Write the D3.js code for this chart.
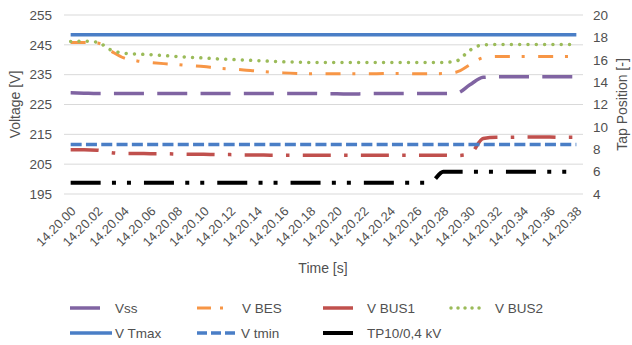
<!DOCTYPE html>
<html>
<head>
<meta charset="utf-8">
<script src="https://cdn.jsdelivr.net/npm/d3@7"></script>
<style>
  body { margin: 0; background: #fff; }
  svg { font-family: "Liberation Sans", Arial, sans-serif; }
</style>
</head>
<body>
<div id="chart"></div>
<script>
// time stamps, one per second
const times = ['14.20.00','14.20.01','14.20.02','14.20.03','14.20.04','14.20.05','14.20.06','14.20.07','14.20.08','14.20.09',
  '14.20.10','14.20.11','14.20.12','14.20.13','14.20.14','14.20.15','14.20.16','14.20.17','14.20.18','14.20.19',
  '14.20.20','14.20.21','14.20.22','14.20.23','14.20.24','14.20.25','14.20.26','14.20.27','14.20.28','14.20.29',
  '14.20.30','14.20.31','14.20.32','14.20.33','14.20.34','14.20.35','14.20.36','14.20.37','14.20.38'];

const vss = [228.9,228.8,228.7,228.7,228.7,228.7,228.7,228.7,228.7,228.7,
  228.7,228.7,228.7,228.7,228.7,228.7,228.7,228.7,228.7,228.6,
  228.6,228.5,228.6,228.7,228.7,228.7,228.7,228.7,228.7,228.8,
  231.6,234.1,234.3,234.3,234.3,234.3,234.3,234.3,234.3];
const vBes = [245.8,245.8,245.6,243.0,240.6,239.6,239.1,238.7,238.4,238.0,
  237.7,237.2,236.9,236.6,236.2,235.9,235.6,235.4,235.3,235.3,
  235.3,235.3,235.3,235.3,235.4,235.4,235.3,235.3,235.4,235.9,
  238.3,240.7,241.1,241.1,241.1,241.1,241.1,241.1,241.1];
const vBus1 = [209.8,209.8,209.7,208.9,208.6,208.6,208.5,208.5,208.4,208.3,
  208.3,208.2,208.2,208.1,208.1,208.0,208.0,208.0,208.0,208.0,
  208.0,208.0,208.0,208.0,208.0,208.0,208.0,208.0,208.0,207.9,
  208.4,213.6,214.0,214.0,214.1,214.1,214.1,214.0,214.0];
const vBus2 = [246.1,246.2,245.9,243.3,242.2,241.9,241.7,241.4,241.1,240.8,
  240.6,240.3,240.1,239.9,239.7,239.5,239.3,239.2,239.1,239.1,
  239.1,239.1,239.1,239.1,239.1,239.1,239.1,239.1,239.1,239.6,
  243.2,245.0,245.1,245.1,245.1,245.1,245.1,245.1,245.1];
const vTmax = [248.4,248.4,248.4,248.4,248.4,248.4,248.4,248.4,248.4,248.4,
  248.4,248.4,248.4,248.4,248.4,248.4,248.4,248.4,248.4,248.4,
  248.4,248.4,248.4,248.4,248.4,248.4,248.4,248.4,248.4,248.4,
  248.4,248.4,248.4,248.4,248.4,248.4,248.4,248.4,248.4];
const vTmin = [211.6,211.6,211.6,211.6,211.6,211.6,211.6,211.6,211.6,211.6,
  211.6,211.6,211.6,211.6,211.6,211.6,211.6,211.6,211.6,211.6,
  211.6,211.6,211.6,211.6,211.6,211.6,211.6,211.6,211.6,211.6,
  211.6,211.6,211.6,211.6,211.6,211.6,211.6,211.6,211.6];
// tap position (right axis)
const tap = [5,5,5,5,5,5,5,5,5,5,
  5,5,5,5,5,5,5,5,5,5,
  5,5,5,5,5,5,5,5,6,6,
  6,6,6,6,6,6,6,6,6];

const voltTicks = [195, 205, 215, 225, 235, 245, 255];
const tapTicks = [4, 6, 8, 10, 12, 14, 16, 18, 20];

const series = [
  { name: 'Vss', values: vss, axis: 'left', color: '#8064a2', width: 3.5, dash: '30 13.3' },
  { name: 'V BES', values: vBes, axis: 'left', color: '#f79646', width: 3, dash: '15 11.8 3 13.5' },
  { name: 'V BUS1', values: vBus1, axis: 'left', color: '#c0504d', width: 3.5, dash: '28 13.3 3.5 13.3' },
  { name: 'V BUS2', values: vBus2, axis: 'left', color: '#9bbb59', width: 3.5, dash: '0.01 8.3', cap: 'round' },
  { name: 'V Tmax', values: vTmax, axis: 'left', color: '#4a7ec6', width: 3.5, dash: null },
  { name: 'V tmin', values: vTmin, axis: 'left', color: '#4a7ec6', width: 3.5, dash: '11 4.3' },
  { name: 'TP10/0,4 kV', values: tap, axis: 'right', color: '#000000', width: 4, dash: '30 11.3 4 11 4 13' }
];

const width = 632, height = 345;
const margin = { top: 15, right: 50, bottom: 151, left: 64 };

const svg = d3.select('#chart').append('svg')
  .attr('width', width)
  .attr('height', height);

const x = d3.scaleBand()
  .domain(times)
  .range([margin.left, width - margin.right + 1]);
const cx = d => x(d) + x.bandwidth() / 2;

const yLeft = d3.scaleLinear()
  .domain([195, 255])
  .range([height - margin.bottom, margin.top]);
const yRight = d3.scaleLinear()
  .domain([4, 20])
  .range([height - margin.bottom, margin.top]);

// grid lines
svg.append('g')
  .selectAll('line')
  .data(voltTicks)
  .join('line')
  .attr('x1', margin.left)
  .attr('x2', width - margin.right + 1)
  .attr('y1', d => yLeft(d))
  .attr('y2', d => yLeft(d))
  .attr('stroke', '#d9d9d9')
  .attr('stroke-width', 1);

// left axis
const leftAxis = svg.append('g')
  .attr('transform', `translate(${margin.left - 12}, 0)`)
  .call(d3.axisLeft(yLeft).tickValues(voltTicks).tickSize(0).tickPadding(0));
leftAxis.select('.domain').remove();
leftAxis.selectAll('text')
  .attr('fill', '#505050')
  .style('font-size', '13.5px');

// right axis
const rightAxis = svg.append('g')
  .attr('transform', `translate(${width - margin.right + 11}, 0)`)
  .call(d3.axisRight(yRight).tickValues(tapTicks).tickSize(0).tickPadding(0));
rightAxis.select('.domain').remove();
rightAxis.selectAll('text')
  .attr('fill', '#505050')
  .style('font-size', '13.5px');

// x axis labels, every second category
const xAxis = svg.append('g')
  .attr('transform', `translate(0, ${yLeft(195)})`)
  .call(d3.axisBottom(x).tickValues(times.filter((d, i) => i % 2 === 0)).tickSize(0).tickPadding(0));
xAxis.select('.domain').remove();
xAxis.selectAll('text')
  .attr('fill', '#505050')
  .style('font-size', '12.8px')
  .attr('text-anchor', 'end')
  .attr('dy', null)
  .attr('y', 0)
  .attr('transform', 'translate(6, 18) rotate(-45)');

// axis titles
svg.append('text')
  .attr('transform', `translate(20, ${(yLeft(255) + yLeft(195)) / 2}) rotate(-90)`)
  .attr('text-anchor', 'middle')
  .attr('fill', '#505050')
  .style('font-size', '14px')
  .text('Voltage [V]');

svg.append('text')
  .attr('transform', `translate(627, ${(yLeft(255) + yLeft(195)) / 2}) rotate(-90)`)
  .attr('text-anchor', 'middle')
  .attr('fill', '#505050')
  .style('font-size', '14px')
  .text('Tap Position [-]');

svg.append('text')
  .attr('x', 323)
  .attr('y', 273)
  .attr('text-anchor', 'middle')
  .attr('fill', '#505050')
  .style('font-size', '14px')
  .text('Time [s]');

// lines
const plot = svg.append('g');
series.forEach(s => {
  const yScale = s.axis === 'left' ? yLeft : yRight;
  const line = d3.line()
    .x((d, i) => cx(times[i]))
    .y(d => yScale(d))
    .curve(d3.curveMonotoneX);
  plot.append('path')
    .datum(s.values)
    .attr('d', line)
    .attr('fill', 'none')
    .attr('stroke', s.color)
    .attr('stroke-width', s.width)
    .attr('stroke-linecap', s.cap || 'butt')
    .attr('stroke-dasharray', s.dash);
});

// legend
const legendItems = [
  { s: series[0], x: 70, y: 308, len: 30, tx: 115 },
  { s: series[1], x: 197, y: 308, len: 30, tx: 242 },
  { s: series[2], x: 323, y: 308, len: 30, tx: 367 },
  { s: series[3], x: 451, y: 308, len: 34, tx: 495 },
  { s: series[4], x: 70, y: 333, len: 42, tx: 115 },
  { s: series[5], x: 197, y: 333, len: 42, tx: 241 },
  { s: series[6], x: 323, y: 333, len: 30, tx: 367 }
];
const legendDash = {
  'V BES': '14 9 3 20',
  'V BUS2': '0.01 7',
  'V tmin': '10 4'
};

const legend = svg.append('g');
legendItems.forEach(item => {
  legend.append('line')
    .attr('x1', item.x)
    .attr('x2', item.x + item.len)
    .attr('y1', item.y)
    .attr('y2', item.y)
    .attr('stroke', item.s.color)
    .attr('stroke-width', item.s.width)
    .attr('stroke-linecap', item.s.cap || 'butt')
    .attr('stroke-dasharray', legendDash[item.s.name] || null);
  legend.append('text')
    .attr('x', item.tx)
    .attr('y', item.y + 5)
    .attr('fill', '#505050')
    .style('font-size', '13.5px')
    .text(item.s.name);
});
</script>
</body>
</html>
